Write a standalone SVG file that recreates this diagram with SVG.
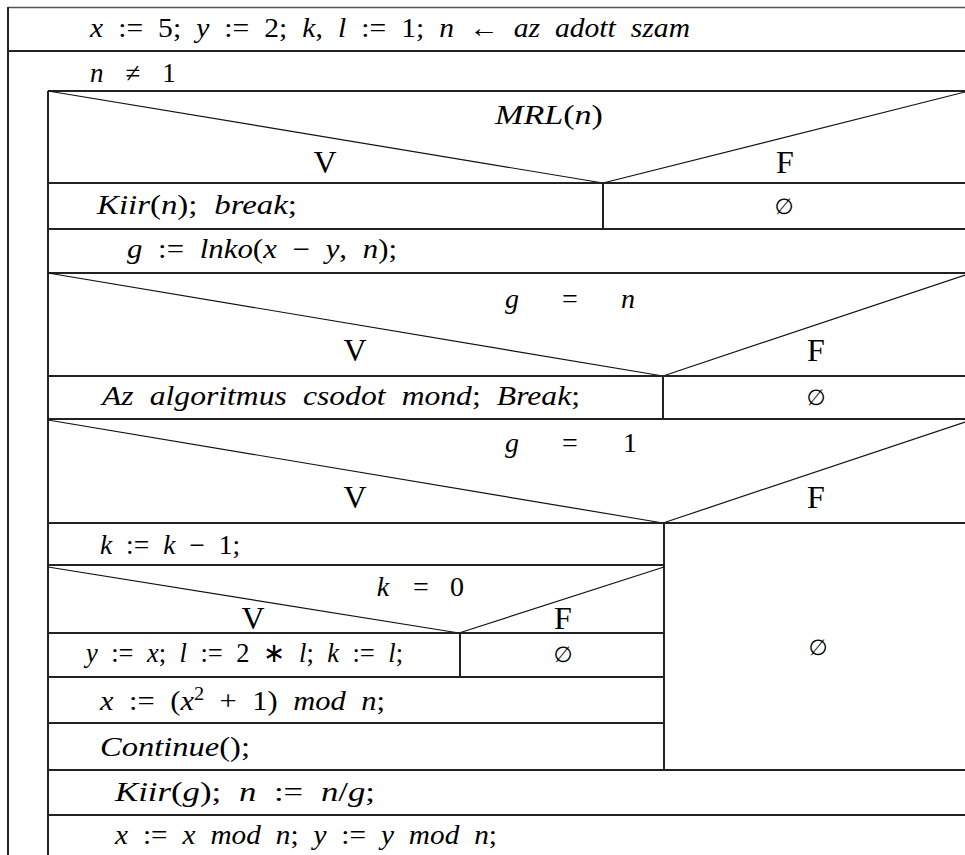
<svg xmlns="http://www.w3.org/2000/svg" width="965" height="855" viewBox="0 0 965 855">
<style>
.bg{fill:#fff}
.ln{stroke:#222;stroke-width:2;fill:none}
.lt{stroke:#555;stroke-width:1.5;fill:none}
.dg{stroke:#111;stroke-width:1.2;fill:none}
.t{font-family:"Liberation Serif","Times New Roman",serif;font-size:27px;word-spacing:7px;fill:#000}
.i{font-style:italic}
.c{font-size:28px}
.vf{font-family:"Liberation Serif","Times New Roman",serif;font-size:32px;text-anchor:middle;fill:#000}
.e{font-family:"DejaVu Sans",sans-serif;font-size:22px;text-anchor:middle;fill:#000}
</style>
<rect class="bg" x="0" y="0" width="965" height="855"/>

<g id="outer-frame">
<line class="lt" x1="8" y1="7.5" x2="965" y2="7.5"/>
<line class="ln" x1="8" y1="7" x2="8" y2="855"/>
</g>

<g id="init">
<line class="ln" x1="8" y1="51" x2="965" y2="51"/>
<text class="t" x="90" y="37" textLength="600" lengthAdjust="spacingAndGlyphs"><tspan class="i">x</tspan> := 5; <tspan class="i">y</tspan> := 2; <tspan class="i">k</tspan>, <tspan class="i">l</tspan> := 1; <tspan class="i">n</tspan> ←  <tspan class="i">az adott szam</tspan></text>
</g>

<g id="loop">
<text class="t i" x="90" y="82">n</text>
<text class="t" x="133" y="82" text-anchor="middle">≠</text>
<text class="t" x="169" y="82" text-anchor="middle">1</text>
<line class="ln" x1="48" y1="91" x2="965" y2="91"/>
<line class="ln" x1="48" y1="91" x2="48" y2="855"/>
</g>

<g id="if-mrl">
<line class="dg" x1="48" y1="91" x2="603" y2="183"/>
<line class="dg" x1="603" y1="183" x2="965" y2="92"/>
<text class="t c" x="495" y="124" textLength="108" lengthAdjust="spacingAndGlyphs"><tspan class="i">MRL</tspan>(<tspan class="i">n</tspan>)</text>
<text class="vf" x="325" y="173">V</text>
<text class="vf" x="785" y="173">F</text>
<line class="ln" x1="48" y1="183" x2="965" y2="183"/>
<line class="ln" x1="603" y1="183" x2="603" y2="229"/>
<text class="t" x="97" y="214" textLength="200" lengthAdjust="spacingAndGlyphs"><tspan class="i">Kiir</tspan>(<tspan class="i">n</tspan>); <tspan class="i">break</tspan>;</text>
<text class="e" x="784" y="214">∅</text>
<line class="ln" x1="48" y1="229" x2="965" y2="229"/>
</g>

<g id="lnko">
<text class="t" x="127" y="258" textLength="270" lengthAdjust="spacingAndGlyphs"><tspan class="i">g</tspan> :=  <tspan class="i">lnko</tspan>(<tspan class="i">x</tspan> − <tspan class="i">y</tspan>, <tspan class="i">n</tspan>);</text>
<line class="ln" x1="48" y1="273" x2="965" y2="273"/>
</g>

<g id="if-g-eq-n">
<line class="dg" x1="48" y1="273" x2="663" y2="376"/>
<line class="dg" x1="663" y1="376" x2="965" y2="275"/>
<text class="t c i" x="512" y="308" text-anchor="middle">g</text>
<text class="t c" x="570" y="308" text-anchor="middle">=</text>
<text class="t c i" x="628" y="308" text-anchor="middle">n</text>
<text class="vf" x="355" y="361">V</text>
<text class="vf" x="816" y="361">F</text>
<line class="ln" x1="48" y1="376" x2="965" y2="376"/>
<line class="ln" x1="663" y1="376" x2="663" y2="419"/>
<text class="t" x="102" y="405" textLength="478" lengthAdjust="spacingAndGlyphs"><tspan class="i">Az algoritmus csodot mond</tspan>; <tspan class="i">Break</tspan>;</text>
<text class="e" x="816" y="405">∅</text>
<line class="ln" x1="48" y1="419" x2="965" y2="419"/>
</g>

<g id="if-g-eq-1">
<line class="dg" x1="48" y1="420" x2="663" y2="523"/>
<line class="dg" x1="663" y1="523" x2="965" y2="422"/>
<text class="t c i" x="512" y="452" text-anchor="middle">g</text>
<text class="t c" x="570" y="452" text-anchor="middle">=</text>
<text class="t c" x="630" y="452" text-anchor="middle">1</text>
<text class="vf" x="355" y="508">V</text>
<text class="vf" x="816" y="508">F</text>
<line class="ln" x1="48" y1="523" x2="965" y2="523"/>
<line class="ln" x1="664" y1="523" x2="664" y2="770"/>
<text class="e" x="818" y="655">∅</text>
</g>

<g id="k-dec">
<text class="t" x="100" y="554" textLength="140" lengthAdjust="spacingAndGlyphs"><tspan class="i">k</tspan> := <tspan class="i">k</tspan> − 1;</text>
<line class="ln" x1="48" y1="565" x2="664" y2="565"/>
</g>

<g id="if-k-eq-0">
<line class="dg" x1="48" y1="567" x2="459" y2="633"/>
<line class="dg" x1="459" y1="633" x2="664" y2="567"/>
<text class="t c i" x="383" y="596" text-anchor="middle">k</text>
<text class="t c" x="421" y="596" text-anchor="middle">=</text>
<text class="t c" x="457" y="596" text-anchor="middle">0</text>
<text class="vf" x="253" y="629">V</text>
<text class="vf" x="563" y="629">F</text>
<line class="ln" x1="48" y1="633" x2="664" y2="633"/>
<line class="ln" x1="460" y1="633" x2="460" y2="677"/>
<text class="t" x="86" y="662" textLength="317" lengthAdjust="spacingAndGlyphs"><tspan class="i">y</tspan> := <tspan class="i">x</tspan>; <tspan class="i">l</tspan> := 2 ∗ <tspan class="i">l</tspan>; <tspan class="i">k</tspan> := <tspan class="i">l</tspan>;</text>
<text class="e" x="563" y="662">∅</text>
<line class="ln" x1="48" y1="677" x2="664" y2="677"/>
</g>

<g id="x-update">
<text class="t" x="100" y="710" textLength="285" lengthAdjust="spacingAndGlyphs"><tspan class="i">x</tspan> :=  (<tspan class="i">x</tspan><tspan dy="-10" font-size="18">2</tspan><tspan dy="10"> + 1) </tspan><tspan class="i">mod n</tspan>;</text>
<line class="ln" x1="48" y1="723" x2="664" y2="723"/>
</g>

<g id="continue">
<text class="t" x="100" y="756" textLength="150" lengthAdjust="spacingAndGlyphs"><tspan class="i">Continue</tspan>();</text>
<line class="ln" x1="48" y1="770" x2="965" y2="770"/>
</g>

<g id="kiir-g">
<text class="t" x="115" y="801" textLength="260" lengthAdjust="spacingAndGlyphs"><tspan class="i">Kiir</tspan>(<tspan class="i">g</tspan>); <tspan class="i">n</tspan> := <tspan class="i">n</tspan>/<tspan class="i">g</tspan>;</text>
<line class="ln" x1="48" y1="815" x2="965" y2="815"/>
</g>

<g id="mod-update">
<text class="t" x="115" y="844" textLength="382" lengthAdjust="spacingAndGlyphs"><tspan class="i">x</tspan> :=  <tspan class="i">x mod n</tspan>; <tspan class="i">y</tspan> :=  <tspan class="i">y mod n</tspan>;</text>
</g>

<g id="connectors"></g>
</svg>
